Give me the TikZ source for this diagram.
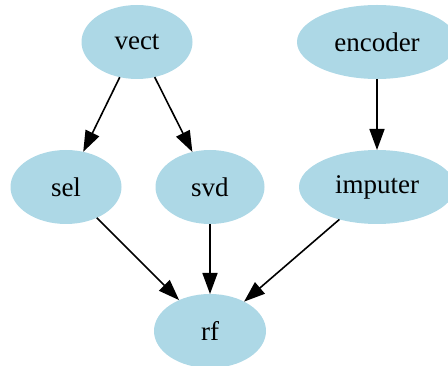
\documentclass[tikz,border=0pt]{standalone}
\usepackage{fontspec}
\setmainfont{Liberation Serif}
\usetikzlibrary{shapes.geometric,arrows.meta}
\definecolor{lb}{HTML}{ADD8E6}
\begin{document}
\begin{tikzpicture}[x=1pt,y=-1pt,
  nd/.style={ellipse,fill=lb,draw=none,inner sep=0pt,outer sep=0pt,minimum height=74pt,font=\fontsize{27}{30}\selectfont},
  ed/.style={line width=1.6pt,-{Triangle[length=21pt,width=15pt]}}]
\useasboundingbox (0,0) rectangle (448,366);
\node[nd,minimum width=111pt] (vect) at (137,42) {vect};
\node[nd,minimum width=160pt] (encoder) at (377,42) {encoder};
\node[nd,minimum width=111pt] (sel) at (66,187) {sel};
\node[nd,minimum width=109pt] (svd) at (210,187) {svd};
\node[nd,minimum width=156pt] (imputer) at (377,187) {imputer};
\node[nd,minimum width=112pt] (rf) at (210,331) {rf};
\draw[ed] (vect) -- (sel);
\draw[ed] (vect) -- (svd);
\draw[ed] (encoder) -- (imputer);
\draw[ed] (sel) -- (rf);
\draw[ed] (svd) -- (rf);
\draw[ed] (imputer) -- (rf);
\end{tikzpicture}
\end{document}
